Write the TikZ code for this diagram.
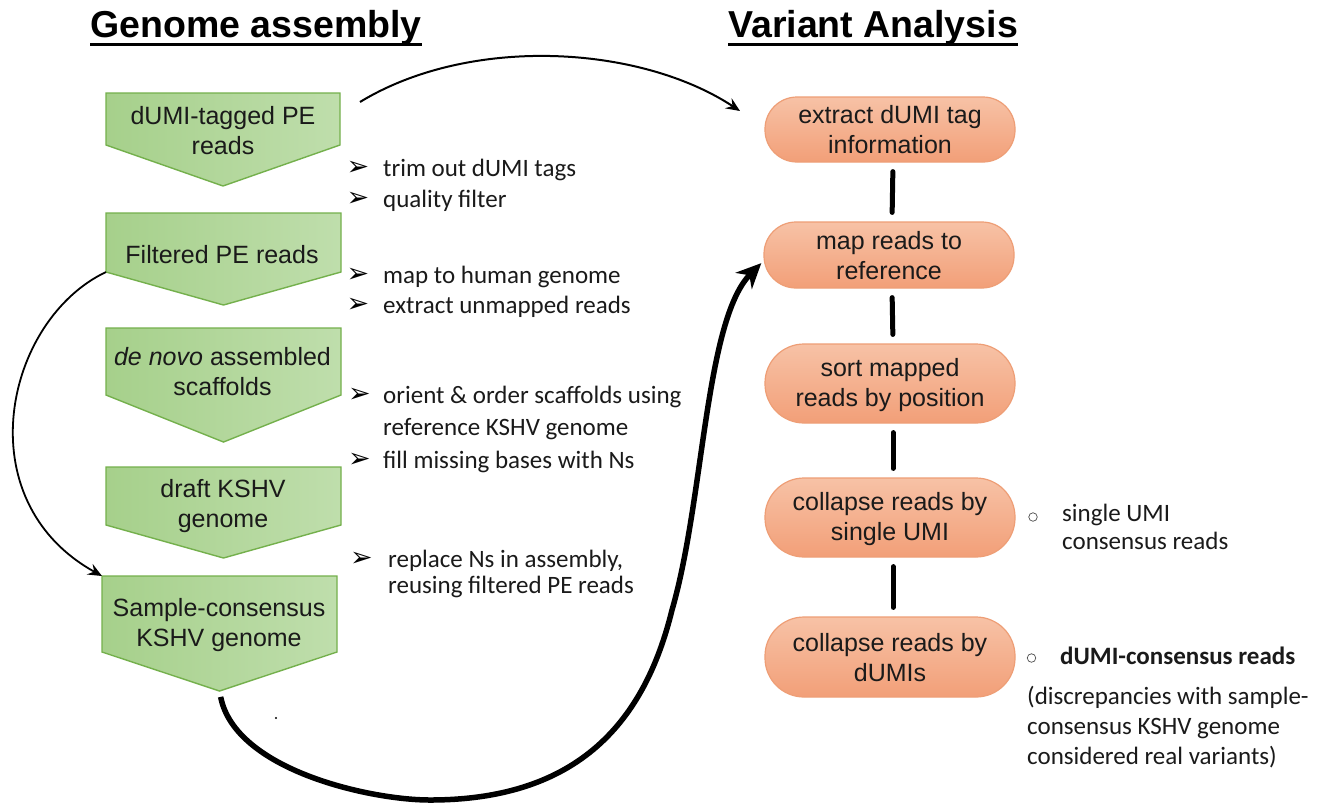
\documentclass[tikz,border=0pt]{standalone}
\usepackage{fontspec}
\setmainfont{Liberation Sans}
\newfontfamily\calib{Carlito}
\newfontfamily\djv{DejaVu Sans}
\usetikzlibrary{arrows.meta,calc}

\definecolor{gleft}{HTML}{A6D08B}
\definecolor{gright}{HTML}{BFDEAC}
\definecolor{gedge}{HTML}{74B04C}
\definecolor{otop}{HTML}{F7C2A6}
\definecolor{obot}{HTML}{F29F78}
\definecolor{oedge}{HTML}{EE9E76}
\definecolor{ink}{HTML}{1A1A1A}

% struts that keep two-line labels evenly placed
\newcommand\topfix{\rule{0pt}{22pt}}
\newcommand\botfix{\rule[-4pt]{0pt}{4pt}}

% pentagon step: name, left, right, top, side bottom, tip
\newcommand\pentagon[6]{%
  \path[pent] (#2,#4) coordinate (#1-nw) -- (#3,#4) coordinate (#1-ne)
    -- (#3,#5) coordinate (#1-se) -- ({(#2+#3)/2},#6) coordinate (#1-tip)
    -- (#2,#5) coordinate (#1-sw) -- cycle;}

\tikzset{
  heading/.style={anchor=base west, inner sep=0pt, text=black,
    font=\fontsize{37.5}{40}\selectfont\bfseries},
  pent/.style={left color=gleft, right color=gright, draw=gedge,
    line width=1.4pt, line join=miter},
  gtext/.style={align=center, inner sep=0pt, text=ink,
    font=\fontsize{25}{30}\selectfont},
  stadium/.style={draw=oedge, line width=1.2pt, top color=otop, bottom color=obot,
    minimum width=250pt, inner sep=0pt, align=center, text=ink,
    font=\fontsize{25}{30}\selectfont, rounded corners=#1},
  arrowmark/.style={inner sep=0pt, text=black, font=\djv\fontsize{27}{27}\selectfont},
  btext/.style={anchor=base west, inner sep=0pt, text=ink,
    font=\calib\fontsize{25}{30}\selectfont},
  ring/.style={circle, draw=black!70, line width=0.7pt, minimum size=8.5pt, inner sep=0pt},
  vlink/.style={line width=5pt, line cap=round, shorten <=9pt, shorten >=9pt},
  thinarrow/.style={line width=2pt, -{Stealth[length=14pt,width=12pt,inset=5pt]}},
  bigarrow/.style={line width=5.5pt, -{Stealth[length=25pt,width=23pt,inset=8pt]}}
}

\begin{document}
\begin{tikzpicture}[x=1pt,y=-1pt]
\useasboundingbox (0,0) rectangle (1322,804);
\fill[white] (0,0) rectangle (1322,804);

% headings
\node[heading] (h1) at (90,37) {Genome assembly};
\node[heading] (h2) at (728,37) {Variant Analysis};
\draw[line width=3.5pt] ([yshift=-7.5pt]h1.base west) -- ([yshift=-7.5pt]h1.base east);
\draw[line width=3.5pt] ([yshift=-7.5pt]h2.base west) -- ([yshift=-7.5pt]h2.base east);

% assembly steps
\pentagon{g1}{106}{340}{93}{145}{186}
\pentagon{g2}{106}{341}{213}{272}{305}
\pentagon{g3}{106}{341}{328}{395}{442}
\pentagon{g4}{106}{341}{467}{525}{558}
\pentagon{g5}{102}{337}{576}{652}{691}

\node[gtext] (l1) at (223,130.5) {\topfix dUMI-tagged PE\\reads\botfix};
\node[gtext] (l2) at (222,254.5) {\topfix Filtered PE reads\botfix};
\node[gtext] (l3) at (222.5,371.5) {\topfix\textit{de novo} assembled\\scaffolds\botfix};
\node[gtext] (l4) at (223,504.5) {\topfix draft KSHV\\genome\botfix};
\node[gtext] (l5) at (219,623.5) {\topfix Sample-consensus\\KSHV genome\botfix};

% notes between the steps
\node[arrowmark] (a1) at (358,168.5) {➢};
\node[btext] (s1) at (383,176.5) {trim out dUMI tags};
\node[arrowmark] (a2) at (358,199.5) {➢};
\node[btext] (s2) at (383,207.5) {quality filter};
\node[arrowmark] (a3) at (358,275) {➢};
\node[btext] (s3) at (383,283) {map to human genome};
\node[arrowmark] (a4) at (358,305) {➢};
\node[btext] (s4) at (383,313) {extract unmapped reads};
\node[arrowmark] (a5) at (359.5,395) {➢};
\node[btext] (s5) at (383,403) {orient \& order scaffolds using};
\node[btext] (s6) at (383,435.5) {reference KSHV genome};
\node[arrowmark] (a7) at (359.5,460) {➢};
\node[btext] (s7) at (383,468) {fill missing bases with Ns};
\node[arrowmark] (a8) at (361.5,559) {➢};
\node[btext] (s8) at (388,567) {replace Ns in assembly,};
\node[btext] (s9) at (388,593) {reusing filtered PE reads};

% variant analysis pipeline
\node[stadium=32pt, minimum height=65pt] (o1) at (890,129.5) {\topfix extract dUMI tag\\information\botfix};
\node[stadium=32pt, minimum height=66pt] (o2) at (889,255) {\topfix map reads to\\reference\botfix};
\node[stadium=39pt, minimum height=79pt] (o3) at (890,383.5) {\topfix sort mapped\\reads by position\botfix};
\node[stadium=39pt, minimum height=79pt] (o4) at (890,517.5) {\topfix collapse reads by\\single UMI\botfix};
\node[stadium=39pt, minimum height=80pt] (o5) at (890,657) {\topfix collapse reads by\\dUMIs\botfix};

\draw[vlink] ([xshift=3pt]o1.south) -- ([xshift=3pt]o2.north);
\draw[vlink] ([xshift=3pt]o2.south) -- ([xshift=3pt]o3.north);
\draw[vlink] ([xshift=3pt]o3.south) -- ([xshift=3pt]o4.north);
\draw[vlink] ([xshift=3pt]o4.south) -- ([xshift=3pt]o5.north);

% outputs of the collapsing steps
\node[ring] (c1) at (1033,517) {};
\node[btext] (r1) at (1062,521) {single UMI};
\node[btext] (r2) at (1062,549) {consensus reads};
\node[ring] (c2) at (1031.5,658) {};
\node[btext, font=\calib\bfseries\fontsize{25}{30}\selectfont] (r3) at (1060,664) {dUMI-consensus reads};
\node[btext] (r4) at (1027,704) {(discrepancies with sample-};
\node[btext] (r5) at (1027,734) {consensus KSHV genome};
\node[btext] (r6) at (1027,764) {considered real variants)};

% connectors
\coordinate (tstart) at (360,102);
\coordinate (tend) at (740,111);
\draw[thinarrow] (tstart) .. controls (470,35) and (640,45) .. (tend);
\draw[thinarrow, line width=1.8pt] (g2-sw) .. controls (5,320) and (-35,500) .. (g5-nw);
\draw[bigarrow, shorten <=6pt, shorten >=3pt] (g5-tip) .. controls (235,770) and (370,800) .. (430,800)
  .. controls (580,800) and (645,720) .. (672,610)
  .. controls (704,500) and (705,320) .. ([yshift=-6pt]o2.west);

\fill (276,718) circle (1.2pt);
\end{tikzpicture}
\end{document}
